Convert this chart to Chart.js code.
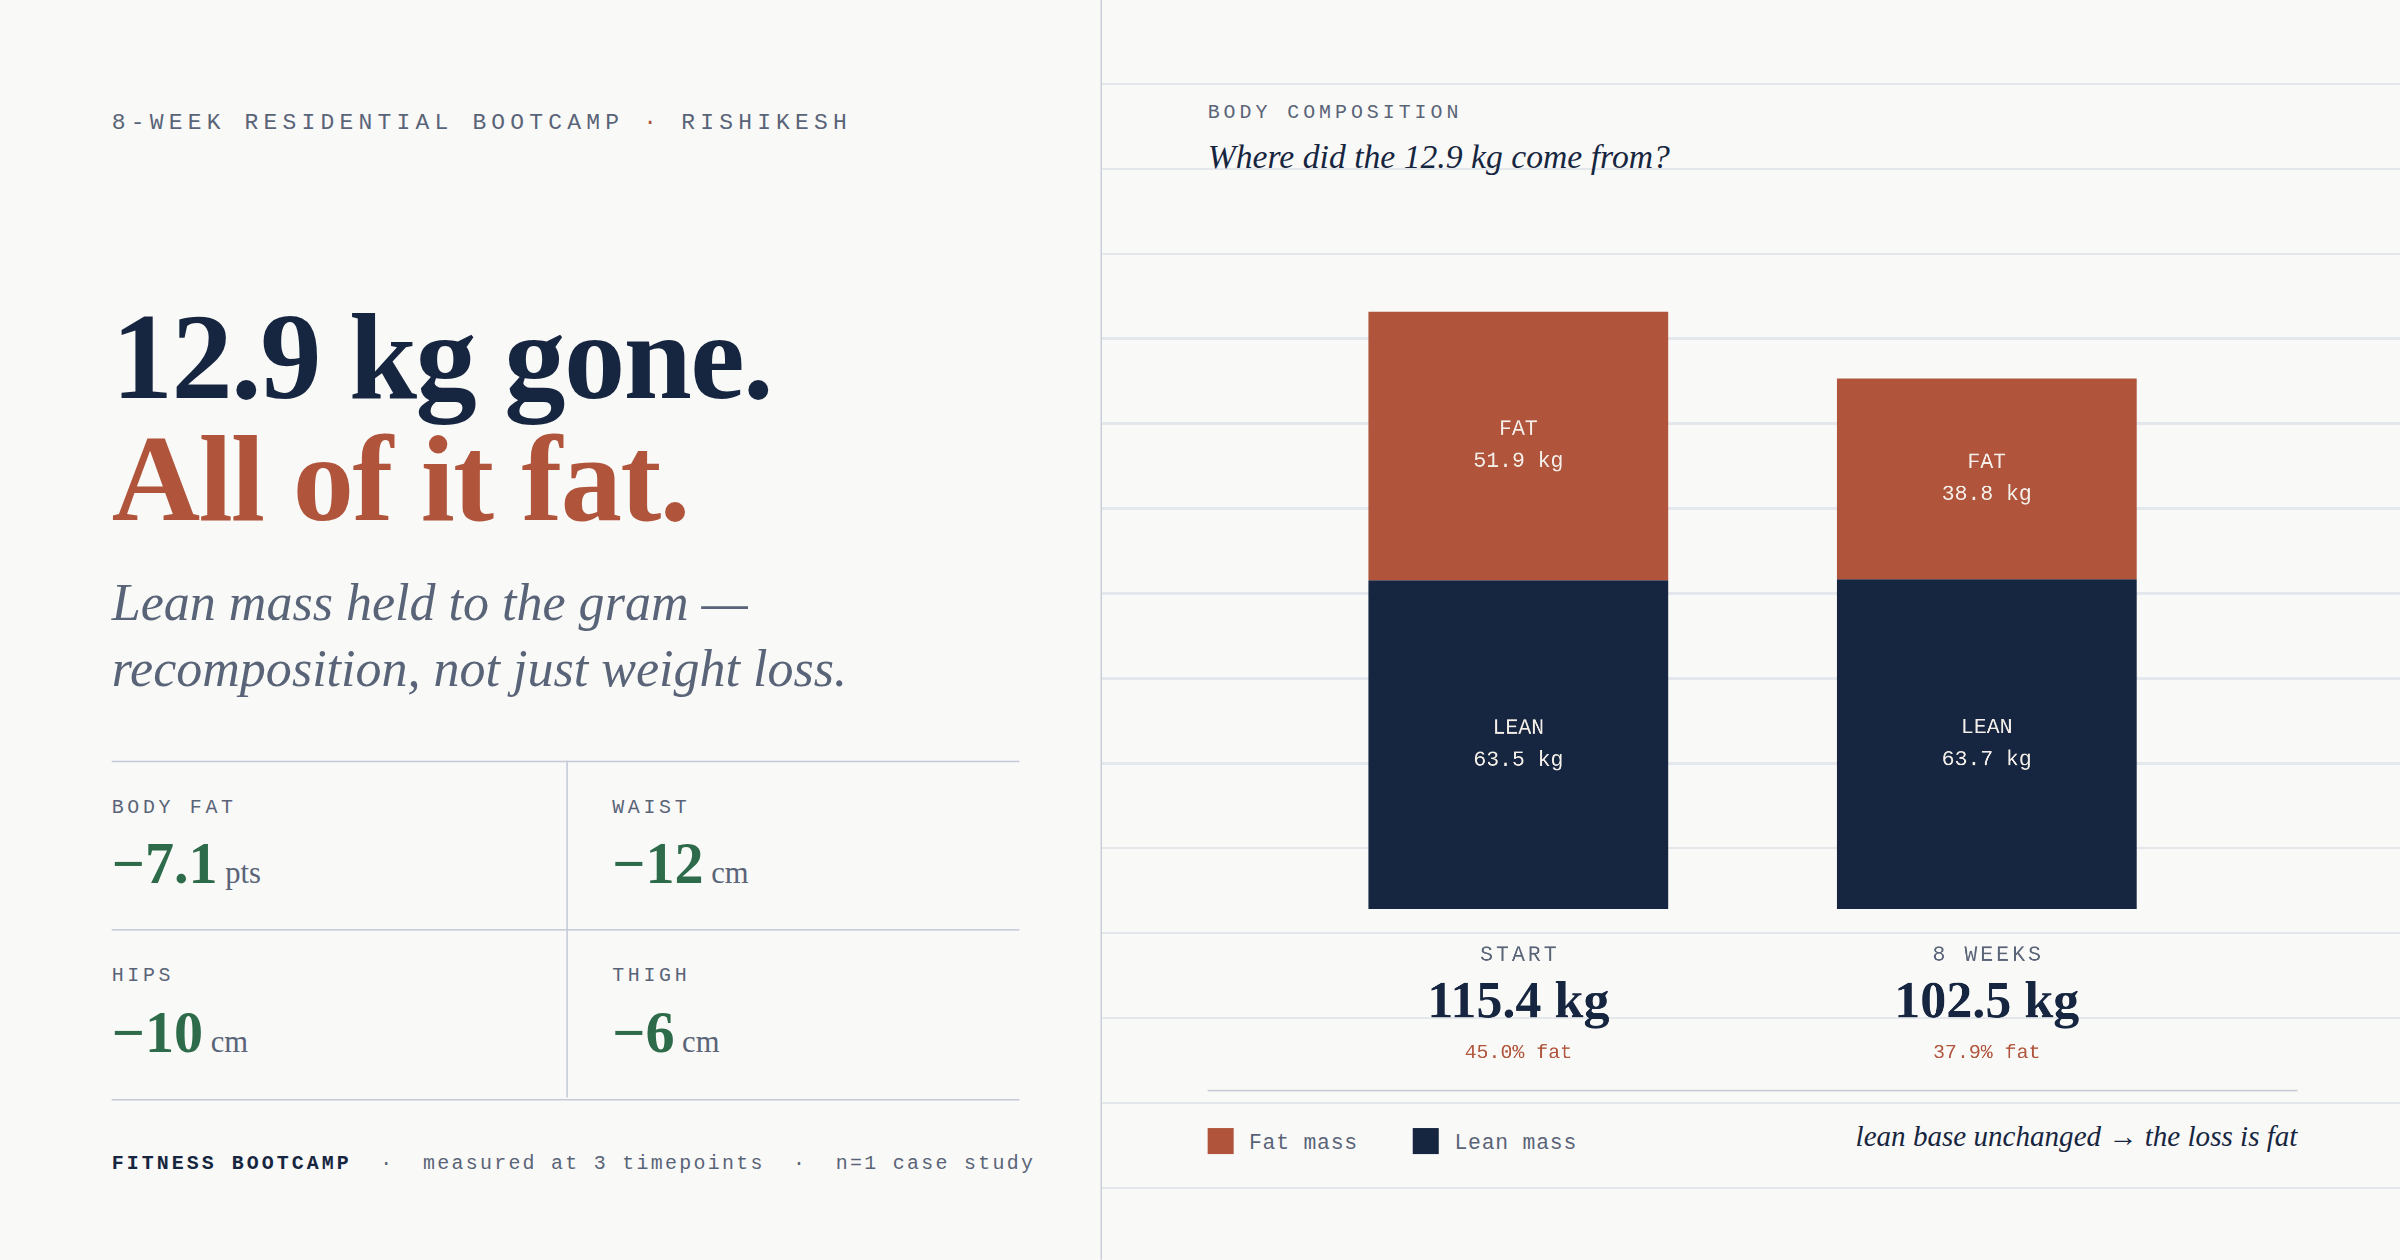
<!DOCTYPE html>
<html><head><meta charset="utf-8">
<script src="https://cdn.jsdelivr.net/npm/chart.js@4"></script>
<style>
html,body{margin:0;padding:0;background:#f9f9f7;overflow:hidden}
#wrap{position:absolute;left:0;top:0;width:1568px;height:823px;transform:scale(1.5306);transform-origin:0 0;background:#f9f9f7;font-family:"Liberation Serif",serif}
.mono{font-family:"Liberation Mono",monospace}
#right{position:absolute;left:719px;top:0;width:849px;height:823px;border-left:1px solid #c9ced8;
background-image:repeating-linear-gradient(to bottom,transparent 0,transparent 54px,#e4e7eb 54px,#e4e7eb 55.5px,transparent 55.5px,transparent 54.9px);}
.abs{position:absolute;white-space:nowrap}
</style></head><body>
<div id="wrap">
 <div class="abs mono" style="left:73px;top:72px;font-size:15px;letter-spacing:3.4px;color:#5a6478">8-WEEK RESIDENTIAL BOOTCAMP <span style="color:#b0553c">·</span> RISHIKESH</div>
 <div class="abs" style="left:73px;top:188px;font-size:80px;font-weight:bold;color:#172640;letter-spacing:-1px">12.9 kg gone.</div>
 <div class="abs" style="left:73px;top:268px;font-size:80px;font-weight:bold;color:#b0553c;letter-spacing:-1px">All of it fat.</div>
 <div class="abs" style="left:73px;top:372px;font-size:34px;font-style:italic;color:#5a6478;line-height:43px">Lean mass held to the gram —<br>recomposition, not just weight loss.</div>
 <div class="abs" style="left:73px;top:497px;width:593px;height:220px;border-top:1.5px solid #c5cad6;border-bottom:1.5px solid #c5cad6"></div>
 <div class="abs" style="left:73px;top:607px;width:593px;border-top:1.5px solid #c5cad6"></div>
 <div class="abs" style="left:370px;top:497px;height:220px;border-left:1.5px solid #c5cad6"></div>
 <div id="stats"></div>
 <div class="abs mono" style="left:73px;top:753px;font-size:13px;letter-spacing:1.5px;color:#5a6478"><b style="color:#172640;letter-spacing:2px">FITNESS BOOTCAMP</b> &nbsp;·&nbsp; measured at 3 timepoints &nbsp;·&nbsp; n=1 case study</div>
 <div id="right">
  <div class="abs mono" style="left:69px;top:66px;font-size:13px;letter-spacing:2.6px;color:#5a6478">BODY COMPOSITION</div>
  <div class="abs" style="left:69px;top:90px;font-size:22px;font-style:italic;color:#172640">Where did the 12.9 kg come from?</div>
  <div class="abs" style="left:69px;top:712px;width:712px;border-top:1.5px solid #c5cad6"></div>
  <div class="abs mono" style="left:69px;top:737px;font-size:14px;color:#5a6478;letter-spacing:0.5px"><span style="display:inline-block;width:17px;height:17px;background:#b0553c;vertical-align:-3px;margin-right:10px"></span>Fat mass<span style="display:inline-block;width:17px;height:17px;background:#172640;vertical-align:-3px;margin:0 10px 0 36px"></span>Lean mass</div>
  <div class="abs" style="right:68px;top:732px;font-size:19px;font-style:italic;color:#172640">lean base unchanged → the loss is fat</div>
 </div>
 <div class="abs" style="left:839px;top:188px;width:612px;height:520px"><canvas id="c"></canvas></div>
</div>
<script>
const categories=["START","8 WEEKS"];
const fatKg=[51.9,38.8];
const leanKg=[63.5,63.7];
const fatPct=["45.0% fat","37.9% fat"];
const statLabels=["BODY FAT","WAIST","HIPS","THIGH"];
const statValues=["−7.1","−12","−10","−6"];
const statUnits=["pts","cm","cm","cm"];

const pos=[[73,520],[400,520],[73,630],[400,630]];
let h="";
statLabels.forEach((l,i)=>{h+=`<div class="abs mono" style="left:${pos[i][0]}px;top:${pos[i][1]}px;font-size:13px;letter-spacing:2.4px;color:#5a6478">${l}</div>
<div class="abs" style="left:${pos[i][0]}px;top:${pos[i][1]+22}px;font-size:38px;font-weight:bold;color:#2e6b4a">${statValues[i]}<span style="font-size:20px;font-weight:normal;color:#5a6478;margin-left:5px">${statUnits[i]}</span></div>`});
document.getElementById('stats').innerHTML=h;

const labelPlugin={id:'lbl',afterDatasetsDraw(ch){
 const c=ch.ctx;c.save();c.textAlign='center';c.textBaseline='middle';
 ch.data.datasets.forEach((ds,di)=>{ch.getDatasetMeta(di).data.forEach((b,i)=>{
  const mid=(b.y+b.base)/2;c.fillStyle='#f4efe9';c.font='14px "Liberation Mono"';
  c.fillText(di===0?'LEAN':'FAT',b.x,mid-11);c.fillText(ds.data[i].toFixed(1)+' kg',b.x,mid+10);
 })});
 const base=ch.scales.y.getPixelForValue(0);
 ch.getDatasetMeta(0).data.forEach((b,i)=>{
  c.fillStyle='#5a6478';c.font='14px "Liberation Mono"';
  const t=categories[i];c.letterSpacing='2px';c.fillText(t,b.x+1,base+30);c.letterSpacing='0px';
  c.fillStyle='#172640';c.font='bold 34px "Liberation Serif"';
  c.fillText((fatKg[i]+leanKg[i]).toFixed(1)+' kg',b.x,base+62);
  c.fillStyle='#b0553c';c.font='13px "Liberation Mono"';c.fillText(fatPct[i],b.x,base+94);
 });c.restore();}};

new Chart(document.getElementById('c'),{type:'bar',
 data:{labels:categories,datasets:[
  {label:'Lean mass',data:leanKg,backgroundColor:'#172640'},
  {label:'Fat mass',data:fatKg,backgroundColor:'#b0553c'}]},
 options:{responsive:true,maintainAspectRatio:false,animation:false,devicePixelRatio:3,
  categoryPercentage:1,barPercentage:0.64,
  layout:{padding:{bottom:114}},
  plugins:{legend:{display:false},tooltip:{enabled:false}},
  scales:{x:{stacked:true,display:false},y:{stacked:true,display:false,min:0,max:120}}},
 plugins:[labelPlugin]});
</script>
</body></html>
